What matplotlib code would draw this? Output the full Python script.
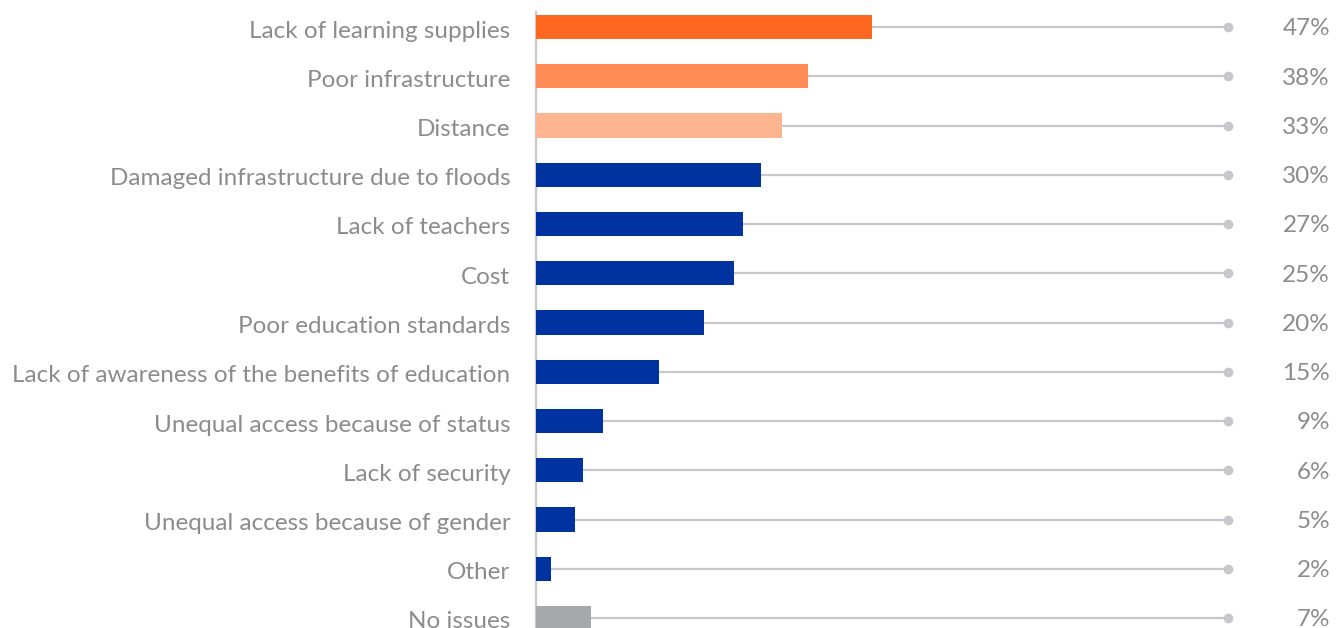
import matplotlib
matplotlib.use("Agg")
from matplotlib import pyplot as plt
from matplotlib import transforms

categories = ["Lack of learning supplies", "Poor infrastructure", "Distance",
              "Damaged infrastructure due to floods", "Lack of teachers", "Cost",
              "Poor education standards", "Lack of awareness of the benefits of education",
              "Unequal access because of status", "Lack of security",
              "Unequal access because of gender", "Other", "No issues"]
# bar lengths as drawn in the picture (percent scale), labels as printed
values = [47.0, 38.0, 34.4, 31.5, 29.0, 27.7, 23.5, 17.2, 9.4, 6.6, 5.5, 2.1, 7.7]
labels = ["47%", "38%", "33%", "30%", "27%", "25%", "20%", "15%", "9%", "6%", "5%", "2%", "7%"]
colors = ["#FF6820", "#FF8C57", "#FFB490"] + ["#0033A0"] * 9 + ["#A7A8AC"]

plt.rcParams['font.family'] = ['Lato', 'DejaVu Sans']
text_col = "#8C8C8C"
line_col = "#C8C8CC"

fig = plt.figure(figsize=(13.44, 6.28), dpi=100)
ax = fig.add_axes([536 / 1344, 0, 808 / 1344, 616 / 628])

px = 336 / 47  # pixels per percent
line_end = 692 / px
ypos = list(range(len(categories)))

for y, v, c in zip(ypos, values, colors):
    ax.plot([v, line_end], [y, y], color=line_col, lw=1.6, zorder=1)
    ax.plot([line_end], [y], 'o', color=line_col, ms=6, zorder=2)
    ax.barh(y, v, height=0.49, color=c, zorder=3)

for y, lab in zip(ypos, labels):
    ax.text(794 / px, y + 0.04, lab, ha='right', va='center', fontsize=17.5, color=text_col)

ax.set_xlim(0, 808 / px)
ax.set_ylim((628 - 27) / 49.25, -15 / 49.25)
ax.set_yticks(ypos)
ax.set_yticklabels(categories, fontsize=17.5, color=text_col)
ax.tick_params(axis='y', length=0, pad=18.5)
shift = transforms.ScaledTranslation(0, -2 / 100, fig.dpi_scale_trans)
for t in ax.get_yticklabels():
    t.set_transform(t.get_transform() + shift)
ax.set_xticks([])
for s in ['top', 'right', 'bottom']:
    ax.spines[s].set_visible(False)
ax.spines['left'].set_color(line_col)
ax.spines['left'].set_linewidth(1.6)

fig.savefig("out.png", dpi=100)
